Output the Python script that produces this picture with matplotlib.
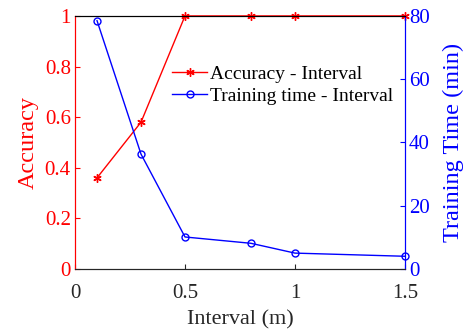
import matplotlib
matplotlib.use('Agg')
import matplotlib.pyplot as plt

interval = [0.1, 0.3, 0.5, 0.8, 1.0, 1.5]
accuracy = [0.36, 0.58, 1.0, 1.0, 1.0, 1.0]
train_time = [78.5, 36.3, 10.1, 8.1, 5.0, 4.0]

plt.rcParams['font.family'] = ['Liberation Serif', 'DejaVu Serif']

fig = plt.figure(figsize=(4.66, 3.32), dpi=100)
ax = fig.add_axes([0.161, 0.19, 0.708, 0.762])
ax2 = ax.twinx()

l1, = ax.plot(interval, accuracy, '-', marker=(6, 2, 0), color='red', lw=1, ms=6,
              label='Accuracy - Interval', clip_on=False, zorder=3)
l2, = ax2.plot(interval, train_time, '-o', color='blue', lw=1, ms=5,
               mfc='none', label='Training time - Interval', clip_on=False)

ax.set_xlim(0, 1.5)
ax.set_ylim(0, 1)
ax2.set_ylim(0, 80)
ax.set_xticks([0, 0.5, 1, 1.5])
ax.set_xticklabels(['0', '0.5', '1', '1.5'])
ax.set_yticks([0, 0.2, 0.4, 0.6, 0.8, 1])
ax.set_yticklabels(['0', '0.2', '0.4', '0.6', '0.8', '1'])
ax2.set_yticks([0, 20, 40, 60, 80])

ax.set_xlabel('Interval (m)', fontsize=16, color='#262626', labelpad=5)
ax.set_ylabel('Accuracy', fontsize=17.5, color='red', labelpad=4)
ax2.set_ylabel('Training Time (min)', fontsize=17.5, color='blue', labelpad=9)

ax.tick_params(axis='x', direction='in', labelsize=15, colors='#262626', pad=11)
ax.tick_params(axis='y', direction='in', labelsize=15, colors='red', pad=3)
ax2.tick_params(axis='y', direction='in', labelsize=15, colors='blue', pad=3)

for a in (ax, ax2):
    a.spines['left'].set_color('red')
    a.spines['right'].set_color('blue')
    a.spines['top'].set_color('black')
    a.spines['bottom'].set_color('#262626')

ax2.legend([l1, l2], ['Accuracy - Interval', 'Training time - Interval'],
           loc='upper right', bbox_to_anchor=(1.0, 0.85), frameon=False,
           fontsize=14, handlelength=1.8, handletextpad=0.15, labelspacing=0.2,
           borderaxespad=0.2)

fig.savefig('out.png', dpi=100)
